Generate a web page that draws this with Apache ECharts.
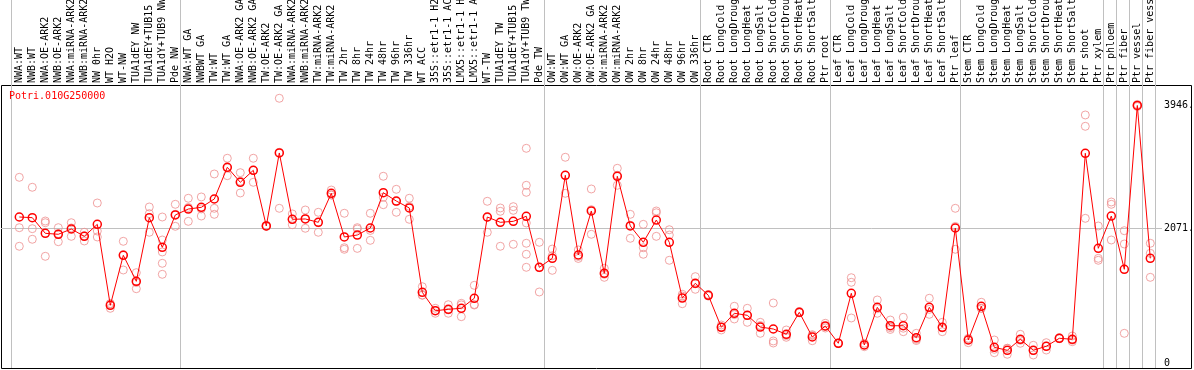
<!DOCTYPE html>
<html>
<head>
<meta charset="utf-8">
<script src="https://cdn.jsdelivr.net/npm/echarts@6/dist/echarts.min.js"></script>
<style>
html,body{margin:0;padding:0;background:#fff;}
#chart{width:1194px;height:370px;}
</style>
</head>
<body>
<div id="chart"></div>
<script>
// ---------- DATA ----------
const chartTitle = 'Potri.010G250000';

const categories = [
  'NWA:WT','NWB:WT','NWA:OE-ARK2','NWB:OE-ARK2','NWA:miRNA-ARK2','NWB:miRNA-ARK2','NW 0hr','WT H2O','WT-NW','TUA1dEY NW','TUA1dEY+TUB15','TUA1dY+TUB9 NW','Pde NW',
  'NWA:WT GA','NWBWT GA','TW:WT','TW:WT GA','NWA:OE-ARK2 GA','NWB:OE-ARK2 GA','TW:OE-ARK2','TW:OE-ARK2 GA','NWA:miRNA-ARK2','NWB:miRNA-ARK2','TW:miRNA-ARK2','TW:miRNA-ARK2',
  'TW 2hr','TW 8hr','TW 24hr','TW 48hr','TW 96hr','TW 336hr','WT ACC','35S::etr1-1 H2','35S::etr1-1 AC','LMX5::etr1-1 H','LMX5::etr1-1 A','WT-TW','TUA1dEY TW','TUA1dEY+TUB15','TUA1dY+TUB9 TW','Pde TW',
  'OW:WT','OW:WT GA','OW:OE-ARK2','OW:OE-ARK2 GA','OW:miRNA-ARK2','OW:miRNA-ARK2','OW 2hr','OW 8hr','OW 24hr','OW 48hr','OW 96hr','OW 336hr',
  'Root CTR','Root LongCold','Root LongDroug','Root LongHeat','Root LongSalt','Root ShortCold','Root ShortDrou','Root ShortHeat','Root ShortSalt','Ptr root',
  'Leaf CTR','Leaf LongCold','Leaf LongDroug','Leaf LongHeat','Leaf LongSalt','Leaf ShortCold','Leaf ShortDrou','Leaf ShortHeat','Leaf ShortSalt','Ptr leaf',
  'Stem CTR','Stem LongCold','Stem LongDroug','Stem LongHeat','Stem LongSalt','Stem ShortCold','Stem ShortDrou','Stem ShortHeat','Stem ShortSalt','Ptr shoot','Ptr xylem',
  'Ptr phloem','Ptr fiber','Ptr vessel','Ptr fiber vess'
];

// index of the first category of each group (a separator line is drawn before it)
const groupStarts = [0, 13, 41, 53, 63, 73, 84, 85, 86, 87];

const meanValues = [
  2243,2233,1994,1979,2060,1948,2131,895,1658,1261,2233,1780,2274,
  2365,2391,2518,3002,2773,2956,2106,3221,2208,2213,2162,2605,
  1938,1968,2075,2614,2487,2381,1093,812,834,849,1002,2243,2162,2177,2254,1475,
  1612,2880,1663,2335,1383,2865,2106,1857,2197,1857,1006,1231,
  1048,559,773,742,563,533,452,788,411,579,
  315,1078,289,864,583,583,400,864,559,2075,
  365,880,253,208,376,208,269,391,376,3216,1765,
  2258,1445,3946,1612
];

const replicateValues = [
  [2849,2080,1796],[2697,2065,1903],[2182,2156,1643],[2080,1866,1990],[2156,1948,2076],[2010,1877,1957],
  [2457,2029,1938],[849,915,921],[1872,1434,1668],[1393,1148,1242],[2396,2294,2010],[2243,1892,1709,1536,1368],[2437,2101,2284],
  [2529,2177,2389],[2549,2258,2366],[2900,2376,2284],[3140,2874,2992],[2920,2610,2789],[3140,2773,2955],[2115,2100,2103],
  [4056,2376,3231],[2290,2208,2125],[2350,2071,2218],[2315,2010,2161],[2655,2579,2581],
  [2300,1774,1750],[2060,1764,2080],[2300,1887,2038],[2865,2431,2546],[2666,2315,2480],[2529,2208,2406],[1179,1052,1048],
  [849,773,814],[904,773,825],[925,721,901],[1200,899,907],[2483,2010,2236],[2381,2330,1796],[2401,2345,1826],
  [3292,2727,2620,2152,1842,1674,1475],[1857,1098,1470],
  [1754,1429,1653],[3155,2605,2880],[1740,1640,1610],[2671,1979,2355],[1460,1322,1368],[2987,2727,2881],
  [2284,1918,2116],[2131,1774,1674],[2335,2308,1948],[2049,1968,1582],[1063,919,1036],[1332,1139,1222],
  [1060,1048,1035],[594,518,565],[880,686,753],[849,635,742],[635,467,587],[930,319,350],[518,406,432],[800,780,785],[446,354,433],[620,548,570],
  [320,315,310],[1316,1246,701],[315,263,289],[976,773,843],[670,553,526],[712,492,545],[467,376,357],[1002,757,833],[635,492,550],[2376,1750,2099],
  [391,324,380],[941,849,850],[365,171,223],[238,147,239],[452,315,361],[284,136,204],[324,212,271],[400,385,388],[426,339,363],[3801,3628,2223],[2106,1612,1582],
  [2472,2437,1892],[2034,1831,467],[3962,3946,3930],[1842,1689,1322]
];

const yTickValues = [0, 2071, 3946];
const yTickLabels = ['0', '2071.', '3946.'];
const yGridValues = [2071];

// ---------- CHART ----------
const MONO = 'DejaVu Sans Mono';
const Y_MIN = -62.6, Y_MAX = 4258.7;
const BAND = 13;
const W = 1194;
const dataLeft = 12.8;
const dataRight = W - dataLeft - BAND * categories.length;
const sepLeft = dataLeft - 1.5;
const sepRight = W - sepLeft - BAND * categories.length;

const repPoints = [];
replicateValues.forEach((arr, i) => arr.forEach(v => repPoints.push([i, v])));

const labelMap = {};
yTickValues.forEach((v, i) => { labelMap[v] = yTickLabels[i]; });
const startSet = new Set(groupStarts);

const common = { containLabel: false, outerBoundsMode: 'none' };

const option = {
  animation: false,
  backgroundColor: '#ffffff',
  title: {
    text: chartTitle, left: 9, top: 91, padding: 0,
    textStyle: { color: '#ff0000', fontFamily: MONO, fontSize: 10, fontWeight: 'normal' }
  },
  grid: [
    Object.assign({ left: dataLeft, right: dataRight, top: 85, bottom: 2 }, common),
    Object.assign({ left: 1.5, right: 2.5, top: 85.5, bottom: 1.5, show: true, borderColor: '#000', borderWidth: 1, backgroundColor: 'rgba(0,0,0,0)' }, common),
    Object.assign({ left: 1, right: 32, top: 85, bottom: 2 }, common),
    Object.assign({ left: sepLeft, right: sepRight, top: 0, bottom: 2 }, common)
  ],
  xAxis: [
    {
      gridIndex: 0, type: 'category', data: categories, position: 'top', boundaryGap: true,
      axisLine: { show: false }, axisTick: { show: false }, splitLine: { show: false },
      axisLabel: { interval: 0, rotate: 90, margin: 2, fontFamily: MONO, fontSize: 10, color: '#000' }
    },
    { gridIndex: 1, type: 'value', show: false },
    { gridIndex: 2, type: 'value', show: false },
    {
      gridIndex: 3, type: 'category', data: categories, boundaryGap: true,
      axisLine: { show: false }, axisTick: { show: false }, axisLabel: { show: false },
      splitLine: { show: true, interval: (idx) => startSet.has(idx), lineStyle: { color: '#c0c0c0', width: 1 } }
    }
  ],
  yAxis: [
    { gridIndex: 0, type: 'value', min: Y_MIN, max: Y_MAX, show: false },
    { gridIndex: 1, type: 'value', show: false },
    {
      gridIndex: 2, type: 'value', min: Y_MIN, max: Y_MAX, position: 'right',
      axisLine: { show: false },
      axisTick: { show: false, customValues: yGridValues },
      splitLine: { show: true, lineStyle: { color: '#c0c0c0', width: 1 } },
      axisLabel: {
        customValues: yTickValues, margin: 2, fontFamily: MONO, fontSize: 10, color: '#000',
        formatter: (v) => labelMap[v] !== undefined ? labelMap[v] : ''
      }
    },
    { gridIndex: 3, type: 'value', show: false }
  ],
  series: [
    {
      type: 'scatter', xAxisIndex: 0, yAxisIndex: 0, data: repPoints,
      symbol: 'circle', symbolSize: 8, silent: true, z: 2,
      itemStyle: { color: 'rgba(0,0,0,0)', borderColor: '#ee8e8e', borderWidth: 1 }
    },
    {
      type: 'line', xAxisIndex: 0, yAxisIndex: 0, data: meanValues,
      symbol: 'circle', symbolSize: 8, showSymbol: true, silent: true, z: 3,
      lineStyle: { color: '#ff0000', width: 1 },
      itemStyle: { color: 'rgba(255,255,255,0)', borderColor: '#ff0000', borderWidth: 1.5 }
    }
  ]
};

const chart = echarts.init(document.getElementById('chart'), null, { renderer: 'canvas' });
chart.setOption(option);
</script>
</body>
</html>
